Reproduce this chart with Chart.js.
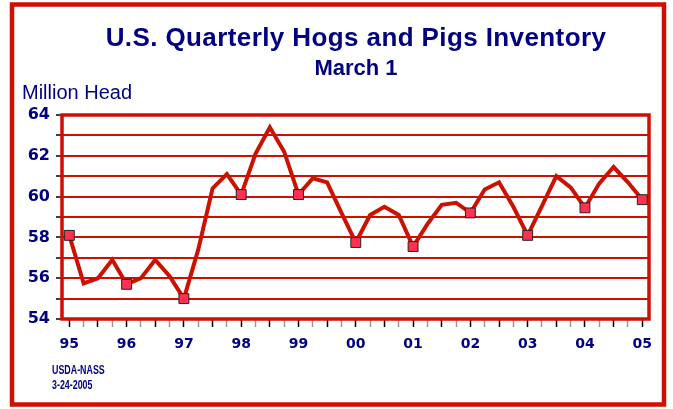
<!DOCTYPE html>
<html>
<head>
<meta charset="utf-8">
<script src="https://cdn.jsdelivr.net/npm/chart.js@4"></script>
<style>
  html, body { margin: 0; padding: 0; background: #fff; }
  #wrap { width: 673px; height: 409px; position: relative; }
</style>
</head>
<body>
<div id="wrap"><canvas id="hogChart" width="673" height="409"></canvas></div>
<script>
// year labels shown under every 4th quarter (March 1)
const yearLabels = ['95', '96', '97', '98', '99', '00', '01', '02', '03', '04', '05'];

// quarterly inventory, million head, Mar 1995 .. Mar 2005
const inventory = [
    58.1, 55.75, 56.0, 56.9,
    55.7, 56.0, 56.9, 56.1,
    55.0, 57.4, 60.4, 61.1,
    60.1, 62.1, 63.4, 62.2,
    60.1, 60.9, 60.7, 59.2,
    57.75, 59.1, 59.5, 59.1,
    57.55, 58.65, 59.6, 59.7,
    59.2, 60.35, 60.7, 59.5,
    58.1, 59.55, 61.0, 60.45,
    59.45, 60.65, 61.45, 60.7,
    59.85
];

// y grid every unit, labels on even values
const yTicks = [54, 55, 56, 57, 58, 59, 60, 61, 62, 63, 64];
const yLabelled = [54, 56, 58, 60, 62, 64];

const NAVY = '#000080';
const RED = '#cc1100';

const points = inventory.map((v, i) => ({ x: i, y: v }));

// frame, titles, plot box and footer
const decorations = {
    id: 'decorations',
    beforeDraw(chart) {
        const ctx = chart.ctx;
        ctx.save();
        ctx.fillStyle = '#fff';
        ctx.fillRect(0, 0, chart.width, chart.height);

        ctx.strokeStyle = RED;
        ctx.lineWidth = 4.5;
        ctx.strokeRect(12, 4.5, 652, 400);

        ctx.fillStyle = NAVY;
        ctx.textAlign = 'center';
        ctx.textBaseline = 'alphabetic';
        ctx.font = 'bold 26px "Liberation Sans", Arial, sans-serif';
        ctx.letterSpacing = '0.4px';
        ctx.fillText('U.S. Quarterly Hogs and Pigs Inventory', 356, 46);
        ctx.letterSpacing = '0px';
        ctx.font = 'bold 22px "Liberation Sans", Arial, sans-serif';
        ctx.fillText('March 1', 356, 75);

        ctx.textAlign = 'left';
        ctx.font = '20px "Liberation Sans", Arial, sans-serif';
        ctx.fillText('Million Head', 22, 99);

        // footer, narrow bold
        ctx.font = 'bold 12px "Liberation Sans", Arial, sans-serif';
        ctx.translate(52, 0);
        ctx.scale(0.74, 1);
        ctx.fillText('USDA-NASS', 0, 374);
        ctx.fillText('3-24-2005', 0, 389);
        ctx.restore();
    },
    beforeDatasetsDraw(chart) {
        const a = chart.chartArea;
        const ctx = chart.ctx;
        ctx.save();
        ctx.strokeStyle = RED;
        ctx.lineWidth = 3.5;
        ctx.strokeRect(a.left, a.top, a.right - a.left, a.bottom - a.top);
        ctx.restore();
    }
};

new Chart(document.getElementById('hogChart').getContext('2d'), {
    type: 'line',
    data: {
        datasets: [{
            data: points,
            borderColor: RED,
            borderWidth: 4,
            tension: 0,
            pointStyle: 'rect',
            pointRadius: ctx => ctx.dataIndex % 4 === 0 ? 7 : 0,
            pointHoverRadius: ctx => ctx.dataIndex % 4 === 0 ? 7 : 0,
            pointBackgroundColor: '#ff3050',
            pointBorderColor: '#222',
            pointBorderWidth: 1
        }]
    },
    options: {
        responsive: false,
        animation: false,
        events: [],
        layout: { padding: { left: 0, top: 115, right: 24, bottom: 0 } },
        plugins: {
            legend: { display: false },
            title: { display: false },
            tooltip: { enabled: false }
        },
        scales: {
            x: {
                type: 'linear',
                min: -0.51,
                max: 40.47,
                afterFit(scale) { scale.height = 90; },
                afterBuildTicks(scale) {
                    scale.ticks = inventory.map((v, i) => ({ value: i }));
                },
                border: { display: false },
                grid: {
                    drawOnChartArea: false,
                    drawTicks: true,
                    tickLength: 8,
                    tickWidth: 1.5,
                    tickColor: ctx => (ctx.index % 2 === 0 ? '#000' : '#999')
                },
                ticks: {
                    autoSkip: false,
                    maxRotation: 0,
                    padding: 9,
                    color: NAVY,
                    font: { family: '"DejaVu Sans", Verdana, sans-serif', size: 14, weight: 'bold' },
                    callback: value => (value % 4 === 0 ? yearLabels[value / 4] : '')
                }
            },
            y: {
                min: 54,
                max: 64,
                afterFit(scale) { scale.width = 62; },
                afterBuildTicks(scale) {
                    scale.ticks = yTicks.map(v => ({ value: v }));
                },
                border: { display: false },
                grid: {
                    color: RED,
                    lineWidth: 2,
                    drawTicks: true,
                    tickLength: 6,
                    tickWidth: 1.5,
                    tickColor: '#000'
                },
                ticks: {
                    autoSkip: false,
                    padding: 6,
                    color: NAVY,
                    font: { family: '"DejaVu Sans", Verdana, sans-serif', size: 16, weight: 'bold' },
                    callback: value => (yLabelled.includes(value) ? String(value) : '')
                }
            }
        }
    },
    plugins: [decorations]
});
</script>
</body>
</html>
